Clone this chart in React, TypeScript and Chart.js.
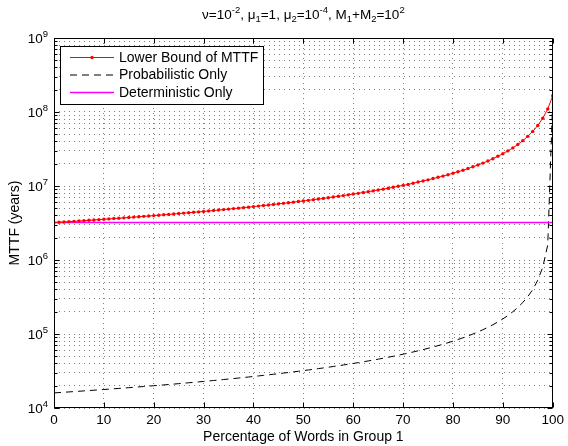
import React, { useEffect, useRef } from 'react';
import { Chart, registerables } from 'chart.js';

Chart.register(...registerables);

// ---- data ----
const percentWords: number[] = Array.from({ length: 101 }, (_, i) => i);

// Lower Bound of MTTF, in millions of years
const lowerBoundE6: number[] = [
  3.20, 3.23, 3.26, 3.30, 3.33, 3.36, 3.40, 3.44, 3.47, 3.51,
  3.55, 3.59, 3.63, 3.67, 3.71, 3.75, 3.80, 3.84, 3.89, 3.93,
  3.98, 4.03, 4.08, 4.13, 4.19, 4.24, 4.30, 4.35, 4.41, 4.47,
  4.53, 4.60, 4.66, 4.73, 4.80, 4.87, 4.95, 5.02, 5.10, 5.18,
  5.27, 5.35, 5.44, 5.53, 5.63, 5.73, 5.83, 5.94, 6.05, 6.16,
  6.28, 6.40, 6.53, 6.66, 6.80, 6.95, 7.10, 7.26, 7.42, 7.59,
  7.78, 7.96, 8.16, 8.37, 8.59, 8.83, 9.07, 9.33, 9.61, 9.90,
  10.2, 10.5, 10.9, 11.3, 11.7, 12.1, 12.6, 13.1, 13.6, 14.2,
  14.9, 15.6, 16.3, 17.2, 18.2, 19.2, 20.4, 21.8, 23.4, 25.2,
  27.3, 29.8, 32.7, 36.4, 41.0, 46.9, 54.7, 65.7, 82.3, 110,
  166,
];

// Probabilistic Only, in units of 10^4 years
const probabilisticE4: number[] = [
  1.600, 1.616, 1.633, 1.649, 1.667, 1.684, 1.702, 1.720, 1.739, 1.758,
  1.778, 1.798, 1.818, 1.839, 1.860, 1.882, 1.905, 1.928, 1.951, 1.975,
  2.000, 2.025, 2.051, 2.078, 2.105, 2.133, 2.162, 2.192, 2.222, 2.254,
  2.286, 2.319, 2.353, 2.388, 2.424, 2.462, 2.500, 2.540, 2.581, 2.623,
  2.667, 2.712, 2.759, 2.807, 2.857, 2.909, 2.963, 3.019, 3.077, 3.137,
  3.200, 3.265, 3.333, 3.404, 3.478, 3.556, 3.636, 3.721, 3.810, 3.902,
  4.000, 4.103, 4.211, 4.324, 4.444, 4.571, 4.706, 4.848, 5.000, 5.161,
  5.333, 5.517, 5.714, 5.926, 6.154, 6.400, 6.667, 6.957, 7.273, 7.619,
  8.000, 8.421, 8.889, 9.412, 10.00, 10.67, 11.43, 12.31, 13.33, 14.55,
  16.00, 17.78, 20.00, 22.86, 26.67, 32.00, 40.00, 53.33, 80.00, 160.0,
  15000,
];

// Deterministic Only (constant), years
const deterministicX: number[] = [0, 100];
const deterministicY: number[] = [3.2e6, 3.2e6];

const xTickValues: number[] = [0, 10, 20, 30, 40, 50, 60, 70, 80, 90, 100];
const yExponents: number[] = [4, 5, 6, 7, 8, 9];
const yMinorMantissas: number[] = [1, 2, 3, 4, 5, 6, 7, 8, 9];

const seriesNames = ['Lower Bound of MTTF', 'Probabilistic Only', 'Deterministic Only'];
const titleSegments: [string, 'n' | 'sup' | 'sub'][] = [
  ['ν=10', 'n'], ['-2', 'sup'], [', μ', 'n'], ['1', 'sub'], ['=1, μ', 'n'], ['2', 'sub'],
  ['=10', 'n'], ['-4', 'sup'], [', M', 'n'], ['1', 'sub'], ['+M', 'n'], ['2', 'sub'],
  ['=10', 'n'], ['2', 'sup'],
];

const FONT = "'Liberation Sans', Arial, Helvetica, sans-serif";
const NORMAL = `13.5px ${FONT}`;
const SMALL = `9.5px ${FONT}`;
const LEGEND_FONT = `14px ${FONT}`;

function drawRich(ctx: CanvasRenderingContext2D, segs: [string, string][], x: number, baseline: number, align: 'center' | 'right') {
  let total = 0;
  for (const [t, m] of segs) {
    ctx.font = m === 'n' ? NORMAL : SMALL;
    total += ctx.measureText(t).width;
  }
  let cx = align === 'center' ? x - total / 2 : x - total;
  ctx.textAlign = 'left';
  ctx.textBaseline = 'alphabetic';
  for (const [t, m] of segs) {
    ctx.font = m === 'n' ? NORMAL : SMALL;
    const dy = m === 'sup' ? -6 : m === 'sub' ? 3 : 0;
    ctx.fillText(t, cx, baseline + dy);
    cx += ctx.measureText(t).width;
  }
}

const overlayPlugin = {
  id: 'matlabOverlay',
  afterDraw(chart: any) {
    const { ctx, chartArea, scales } = chart;
    const { left, right, top, bottom } = chartArea;
    const xs = scales.x;
    const ys = scales.y;
    ctx.save();
    ctx.strokeStyle = '#000';
    ctx.fillStyle = '#000';
    ctx.lineWidth = 1;
    const L = Math.round(left) + 0.5, R = Math.round(right) - 0.5;
    const T = Math.round(top) + 0.5, B = Math.round(bottom) - 0.5;
    ctx.setLineDash([]);
    ctx.strokeRect(L, T, R - L, B - T);

    // inner ticks on x
    ctx.beginPath();
    for (const v of xTickValues) {
      const px = Math.round(xs.getPixelForValue(v)) + 0.5;
      ctx.moveTo(px, B); ctx.lineTo(px, B - 5);
      ctx.moveTo(px, T); ctx.lineTo(px, T + 5);
    }
    // inner ticks on y
    for (const e of yExponents) {
      for (const m of yMinorMantissas) {
        const v = m * Math.pow(10, e);
        if (v > 1e9) continue;
        const py = Math.round(ys.getPixelForValue(v)) + 0.5;
        const len = m === 1 ? 5 : 3;
        ctx.moveTo(L, py); ctx.lineTo(L + len, py);
        ctx.moveTo(R, py); ctx.lineTo(R - len, py);
      }
    }
    ctx.stroke();

    // y tick labels 10^n
    for (const e of yExponents) {
      const py = ys.getPixelForValue(Math.pow(10, e));
      drawRich(ctx, [['10', 'n'], [String(e), 'sup']], 48, py + 5, 'right');
    }

    // title
    drawRich(ctx, titleSegments, (left + right) / 2, 19, 'center');

    // legend
    const bx = 60.5, by = 46.5, bw = 203, bh = 58;
    ctx.fillStyle = '#fff';
    ctx.fillRect(bx, by, bw, bh);
    ctx.strokeStyle = '#000';
    ctx.strokeRect(bx, by, bw, bh);
    const rows = [57.5, 75, 92.5];
    const x1 = 70, x2 = 114;
    // red
    ctx.strokeStyle = '#ff0000';
    ctx.beginPath(); ctx.moveTo(x1, rows[0]); ctx.lineTo(x2, rows[0]); ctx.stroke();
    ctx.fillStyle = '#ff0000';
    ctx.beginPath(); ctx.arc((x1 + x2) / 2, rows[0], 1.7, 0, Math.PI * 2); ctx.fill();
    // dashed
    ctx.strokeStyle = '#000';
    ctx.setLineDash([7, 5]);
    ctx.beginPath(); ctx.moveTo(x1, rows[1]); ctx.lineTo(x2, rows[1]); ctx.stroke();
    ctx.setLineDash([]);
    // magenta
    ctx.strokeStyle = '#ff00ff';
    ctx.lineWidth = 1.5;
    ctx.beginPath(); ctx.moveTo(x1, rows[2]); ctx.lineTo(x2, rows[2]); ctx.stroke();
    ctx.lineWidth = 1;
    ctx.fillStyle = '#000';
    ctx.font = LEGEND_FONT;
    ctx.textAlign = 'left';
    ctx.textBaseline = 'middle';
    seriesNames.forEach((n, i) => ctx.fillText(n, 119, rows[i] + 0.5));
    ctx.restore();
  },
};

export default function App() {
  const ref = useRef<HTMLCanvasElement>(null);
  useEffect(() => {
    document.body.style.margin = '0';
    const canvas = ref.current;
    if (!canvas) return;
    const gridColor = 'rgba(0,0,0,0.5)';
    const chart = new Chart(canvas, {
      type: 'line',
      data: {
        datasets: [
          {
            label: seriesNames[0],
            data: percentWords.map((x, i) => ({ x, y: lowerBoundE6[i] * 1e6 })),
            borderColor: '#ff0000',
            backgroundColor: '#ff0000',
            borderWidth: 1,
            pointRadius: 1.7,
            pointBorderWidth: 0,
            pointBackgroundColor: '#ff0000',
            tension: 0,
            order: 0,
          },
          {
            label: seriesNames[1],
            data: percentWords.map((x, i) => ({ x, y: probabilisticE4[i] * 1e4 })),
            borderColor: '#000000',
            borderWidth: 1,
            borderDash: [7, 5],
            pointRadius: 0,
            tension: 0,
            order: 2,
          },
          {
            label: seriesNames[2],
            data: deterministicX.map((x, i) => ({ x, y: deterministicY[i] })),
            borderColor: '#ff00ff',
            borderWidth: 1.5,
            pointRadius: 0,
            tension: 0,
            order: 1,
          },
        ],
      },
      options: {
        animation: false,
        responsive: false,
        events: [],
        layout: { padding: { top: 38, right: 12, left: 0, bottom: 0 } },
        plugins: { legend: { display: false }, title: { display: false }, tooltip: { enabled: false } },
        scales: {
          x: {
            type: 'linear',
            min: 0,
            max: 100,
            afterFit: (s: any) => { s.height = 38; },
            afterBuildTicks: (s: any) => { s.ticks = xTickValues.map((v) => ({ value: v })); },
            border: { display: false, dash: [1, 4] },
            grid: { color: gridColor, lineWidth: 1, drawTicks: false },
            ticks: {
              autoSkip: false,
              maxRotation: 0,
              padding: 4,
              color: '#000',
              font: { family: FONT, size: 13.5 },
              callback: (v: any) => String(v),
            },
            title: {
              display: true,
              text: 'Percentage of Words in Group 1',
              color: '#000',
              font: { family: FONT, size: 14 },
              padding: { top: 0, bottom: 0 },
            },
          },
          y: {
            type: 'logarithmic',
            min: 1e4,
            max: 1e9,
            afterFit: (s: any) => { s.width = 54; },
            afterBuildTicks: (s: any) => {
              const t: any[] = [];
              for (const e of yExponents) {
                for (const m of yMinorMantissas) {
                  const v = m * Math.pow(10, e);
                  if (v <= 1e9) t.push({ value: v });
                }
              }
              s.ticks = t;
            },
            border: { display: false, dash: [1, 4] },
            grid: { color: gridColor, lineWidth: 1, drawTicks: false },
            ticks: { display: false, autoSkip: false },
            title: {
              display: true,
              text: 'MTTF (years)',
              color: '#000',
              font: { family: FONT, size: 14 },
              padding: { top: 7, bottom: 0 },
            },
          },
        },
      },
      plugins: [overlayPlugin],
    } as any);
    return () => chart.destroy();
  }, []);
  return (
    <div style={{ width: 568, height: 446, background: '#fff' }}>
      <canvas ref={ref} width={568} height={446} style={{ display: 'block' }} />
    </div>
  );
}
